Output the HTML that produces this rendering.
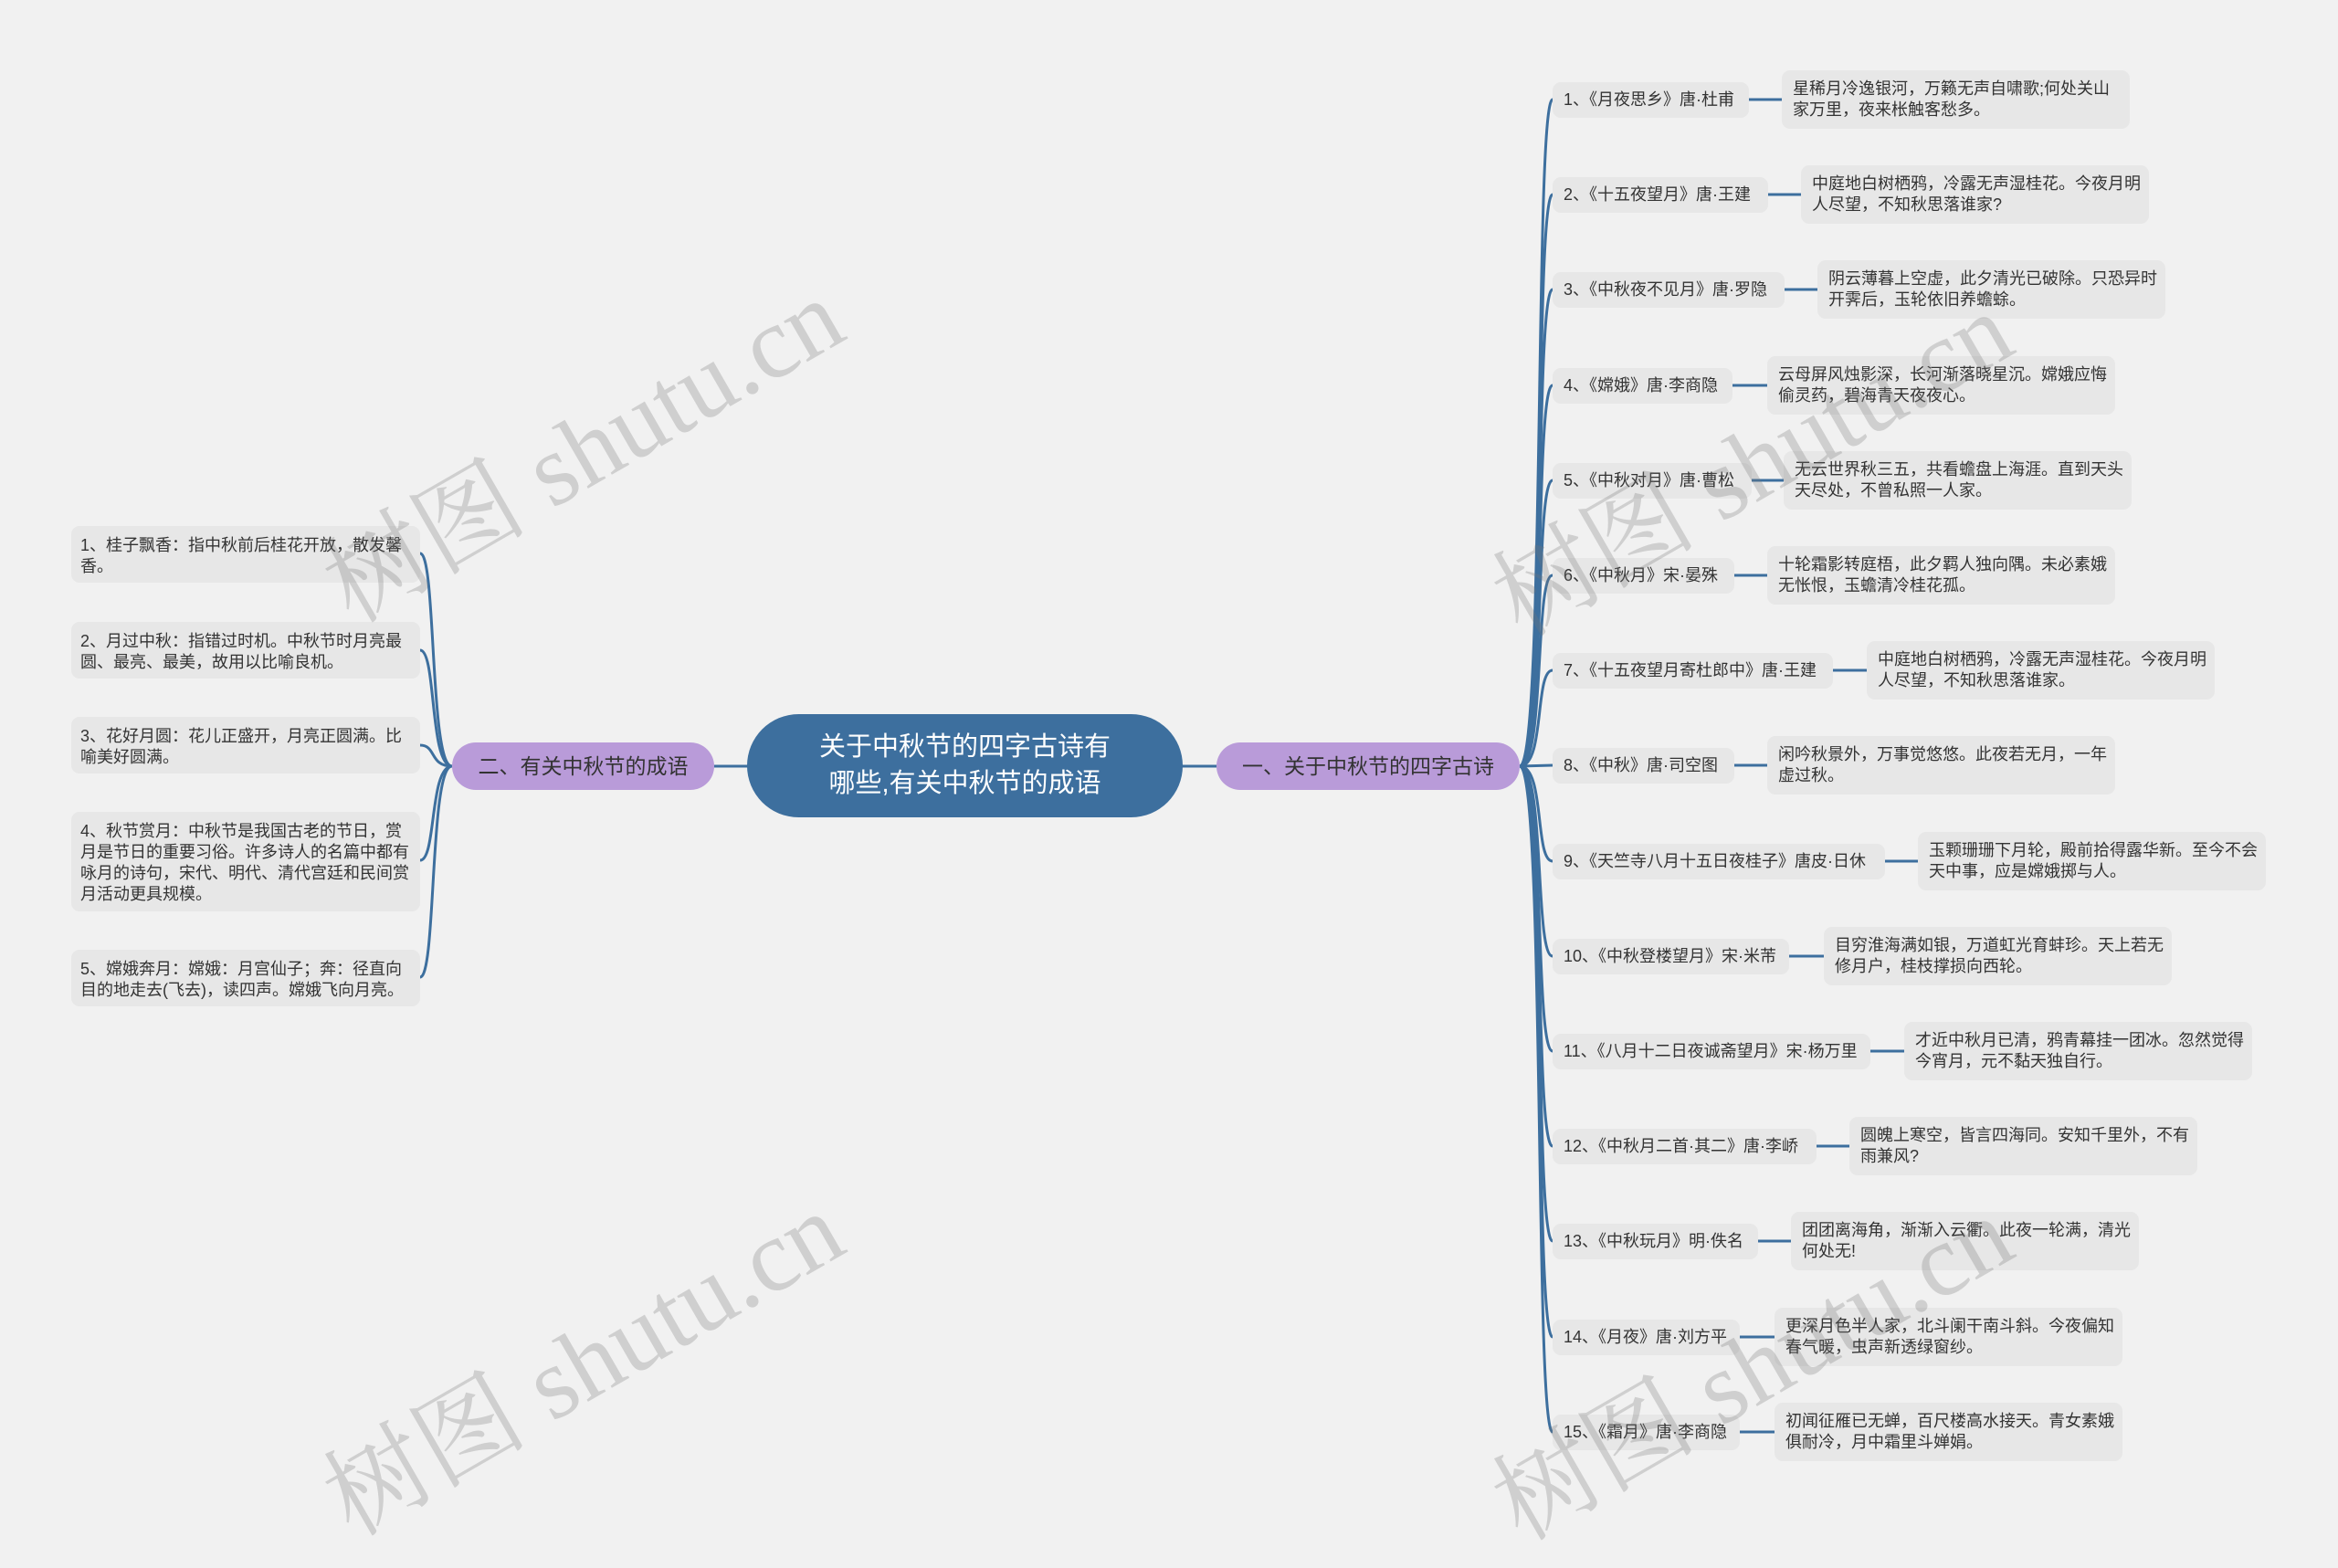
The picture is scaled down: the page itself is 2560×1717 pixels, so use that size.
<!DOCTYPE html>
<html><head><meta charset="utf-8">
<style>
html,body{margin:0;padding:0;}
body{width:2560px;height:1679px;background:#f1f1f1;position:relative;overflow:hidden;font-family:"Liberation Sans","Noto Sans CJK SC",sans-serif;color:#333;}
.b{position:absolute;background:#e7e7e7;border-radius:9px;box-sizing:border-box;white-space:nowrap;font-size:18px;}
.lab{height:39px;line-height:39px;padding-left:12px;}
.poem{height:64px;width:381px;padding:9px 0 0 12px;line-height:23px;}
.idi{width:382px;left:78px;padding:10px 0 0 10px;line-height:23px;}
.br{position:absolute;background:#b99bd9;border-radius:26px;height:52px;line-height:52px;text-align:center;font-size:23px;color:#333;top:813px;}
.wm{position:absolute;font-family:"Liberation Serif","Noto Serif CJK SC",serif;font-size:112px;color:rgba(120,120,120,0.28);transform:rotate(-30deg);transform-origin:center;white-space:nowrap;}
</style></head><body>
<svg width="2560" height="1679" style="position:absolute;left:0;top:0" fill="none" stroke="#3d6f9e" stroke-width="3">
<line x1="782" y1="839" x2="820" y2="839"/>
<line x1="1293" y1="839" x2="1332" y2="839"/>
<path d="M495 839 C470 839 478 606 460 606"/>
<path d="M495 839 C470 839 478 712 460 712"/>
<path d="M495 839 C470 839 478 816 460 816"/>
<path d="M495 839 C470 839 478 942 460 942"/>
<path d="M495 839 C470 839 478 1070 460 1070"/>
<g>
<path d="M1664 839 C1692 839 1680 109 1700 109"/>
<path d="M1664 839 C1692 839 1680 213 1700 213"/>
<path d="M1664 839 C1692 839 1680 317 1700 317"/>
<path d="M1664 839 C1692 839 1680 422 1700 422"/>
<path d="M1664 839 C1692 839 1680 526 1700 526"/>
<path d="M1664 839 C1692 839 1680 630 1700 630"/>
<path d="M1664 839 C1692 839 1680 734 1700 734"/>
<path d="M1664 839 L1700 838"/>
<path d="M1664 839 C1692 839 1680 943 1700 943"/>
<path d="M1664 839 C1692 839 1680 1047 1700 1047"/>
<path d="M1664 839 C1692 839 1680 1151 1700 1151"/>
<path d="M1664 839 C1692 839 1680 1255 1700 1255"/>
<path d="M1664 839 C1692 839 1680 1359 1700 1359"/>
<path d="M1664 839 C1692 839 1680 1464 1700 1464"/>
<path d="M1664 839 C1692 839 1680 1568 1700 1568"/>
</g>
<line x1="1915" y1="109" x2="1951" y2="109"/>
<line x1="1936" y1="213" x2="1972" y2="213"/>
<line x1="1954" y1="317" x2="1990" y2="317"/>
<line x1="1897" y1="422" x2="1935" y2="422"/>
<line x1="1918" y1="526" x2="1953" y2="526"/>
<line x1="1899" y1="630" x2="1935" y2="630"/>
<line x1="2007" y1="734" x2="2044" y2="734"/>
<line x1="1899" y1="838" x2="1935" y2="838"/>
<line x1="2064" y1="943" x2="2100" y2="943"/>
<line x1="1959" y1="1047" x2="1997" y2="1047"/>
<line x1="2048" y1="1151" x2="2085" y2="1151"/>
<line x1="1989" y1="1255" x2="2025" y2="1255"/>
<line x1="1925" y1="1359" x2="1961" y2="1359"/>
<line x1="1905" y1="1464" x2="1943" y2="1464"/>
<line x1="1905" y1="1568" x2="1943" y2="1568"/>
</svg>

<div style="position:absolute;left:818px;top:782px;width:477px;height:113px;border-radius:57px;background:#3d6f9e;color:#fff;font-size:29px;line-height:40px;text-align:center;box-sizing:border-box;padding-top:16px;">关于中秋节的四字古诗有<br>哪些,有关中秋节的成语</div>
<div class="br" style="left:495px;width:287px;">二、有关中秋节的成语</div>
<div class="br" style="left:1332px;width:332px;">一、关于中秋节的四字古诗</div>

<div class="b idi" style="top:576px;height:62px;">1、桂子飘香：指中秋前后桂花开放，散发馨<br>香。</div>
<div class="b idi" style="top:681px;height:62px;">2、月过中秋：指错过时机。中秋节时月亮最<br>圆、最亮、最美，故用以比喻良机。</div>
<div class="b idi" style="top:785px;height:62px;">3、花好月圆：花儿正盛开，月亮正圆满。比<br>喻美好圆满。</div>
<div class="b idi" style="top:889px;height:109px;">4、秋节赏月：中秋节是我国古老的节日，赏<br>月是节日的重要习俗。许多诗人的名篇中都有<br>咏月的诗句，宋代、明代、清代宫廷和民间赏<br>月活动更具规模。</div>
<div class="b idi" style="top:1040px;height:62px;">5、嫦娥奔月：嫦娥：月宫仙子；奔：径直向<br>目的地走去(飞去)，读四声。嫦娥飞向月亮。</div>

<div class="b lab" style="left:1700px;top:90px;width:215px;">1、《月夜思乡》唐·杜甫</div>
<div class="b poem" style="left:1951px;top:77px;">星稀月冷逸银河，万籁无声自啸歌;何处关山<br>家万里，夜来枨触客愁多。</div>
<div class="b lab" style="left:1700px;top:194px;width:236px;">2、《十五夜望月》唐·王建</div>
<div class="b poem" style="left:1972px;top:181px;">中庭地白树栖鸦，冷露无声湿桂花。今夜月明<br>人尽望，不知秋思落谁家?</div>
<div class="b lab" style="left:1700px;top:298px;width:254px;">3、《中秋夜不见月》唐·罗隐</div>
<div class="b poem" style="left:1990px;top:285px;">阴云薄暮上空虚，此夕清光已破除。只恐异时<br>开霁后，玉轮依旧养蟾蜍。</div>
<div class="b lab" style="left:1700px;top:403px;width:197px;">4、《嫦娥》唐·李商隐</div>
<div class="b poem" style="left:1935px;top:390px;">云母屏风烛影深，长河渐落晓星沉。嫦娥应悔<br>偷灵药，碧海青天夜夜心。</div>
<div class="b lab" style="left:1700px;top:507px;width:218px;">5、《中秋对月》唐·曹松</div>
<div class="b poem" style="left:1953px;top:494px;">无云世界秋三五，共看蟾盘上海涯。直到天头<br>天尽处，不曾私照一人家。</div>
<div class="b lab" style="left:1700px;top:611px;width:199px;">6、《中秋月》宋·晏殊</div>
<div class="b poem" style="left:1935px;top:598px;">十轮霜影转庭梧，此夕羁人独向隅。未必素娥<br>无怅恨，玉蟾清冷桂花孤。</div>
<div class="b lab" style="left:1700px;top:715px;width:307px;">7、《十五夜望月寄杜郎中》唐·王建</div>
<div class="b poem" style="left:2044px;top:702px;">中庭地白树栖鸦，冷露无声湿桂花。今夜月明<br>人尽望，不知秋思落谁家。</div>
<div class="b lab" style="left:1700px;top:819px;width:199px;">8、《中秋》唐·司空图</div>
<div class="b poem" style="left:1935px;top:806px;">闲吟秋景外，万事觉悠悠。此夜若无月，一年<br>虚过秋。</div>
<div class="b lab" style="left:1700px;top:924px;width:364px;">9、《天竺寺八月十五日夜桂子》唐皮·日休</div>
<div class="b poem" style="left:2100px;top:911px;">玉颗珊珊下月轮，殿前拾得露华新。至今不会<br>天中事，应是嫦娥掷与人。</div>
<div class="b lab" style="left:1700px;top:1028px;width:259px;">10、《中秋登楼望月》宋·米芾</div>
<div class="b poem" style="left:1997px;top:1015px;">目穷淮海满如银，万道虹光育蚌珍。天上若无<br>修月户，桂枝撑损向西轮。</div>
<div class="b lab" style="left:1700px;top:1132px;width:348px;">11、《八月十二日夜诚斋望月》宋·杨万里</div>
<div class="b poem" style="left:2085px;top:1119px;">才近中秋月已清，鸦青幕挂一团冰。忽然觉得<br>今宵月，元不黏天独自行。</div>
<div class="b lab" style="left:1700px;top:1236px;width:289px;">12、《中秋月二首·其二》唐·李峤</div>
<div class="b poem" style="left:2025px;top:1223px;">圆魄上寒空，皆言四海同。安知千里外，不有<br>雨兼风?</div>
<div class="b lab" style="left:1700px;top:1340px;width:225px;">13、《中秋玩月》明·佚名</div>
<div class="b poem" style="left:1961px;top:1327px;">团团离海角，渐渐入云衢。此夜一轮满，清光<br>何处无!</div>
<div class="b lab" style="left:1700px;top:1445px;width:205px;">14、《月夜》唐·刘方平</div>
<div class="b poem" style="left:1943px;top:1432px;">更深月色半人家，北斗阑干南斗斜。今夜偏知<br>春气暖，虫声新透绿窗纱。</div>
<div class="b lab" style="left:1700px;top:1549px;width:205px;">15、《霜月》唐·李商隐</div>
<div class="b poem" style="left:1943px;top:1536px;">初闻征雁已无蝉，百尺楼高水接天。青女素娥<br>俱耐冷，月中霜里斗婵娟。</div>

<div class="wm" style="left:320px;top:405px;">树图 shutu.cn</div>
<div class="wm" style="left:320px;top:1405px;">树图 shutu.cn</div>
<div class="wm" style="left:1600px;top:420px;">树图 shutu.cn</div>
<div class="wm" style="left:1600px;top:1410px;">树图 shutu.cn</div>
</body></html>
